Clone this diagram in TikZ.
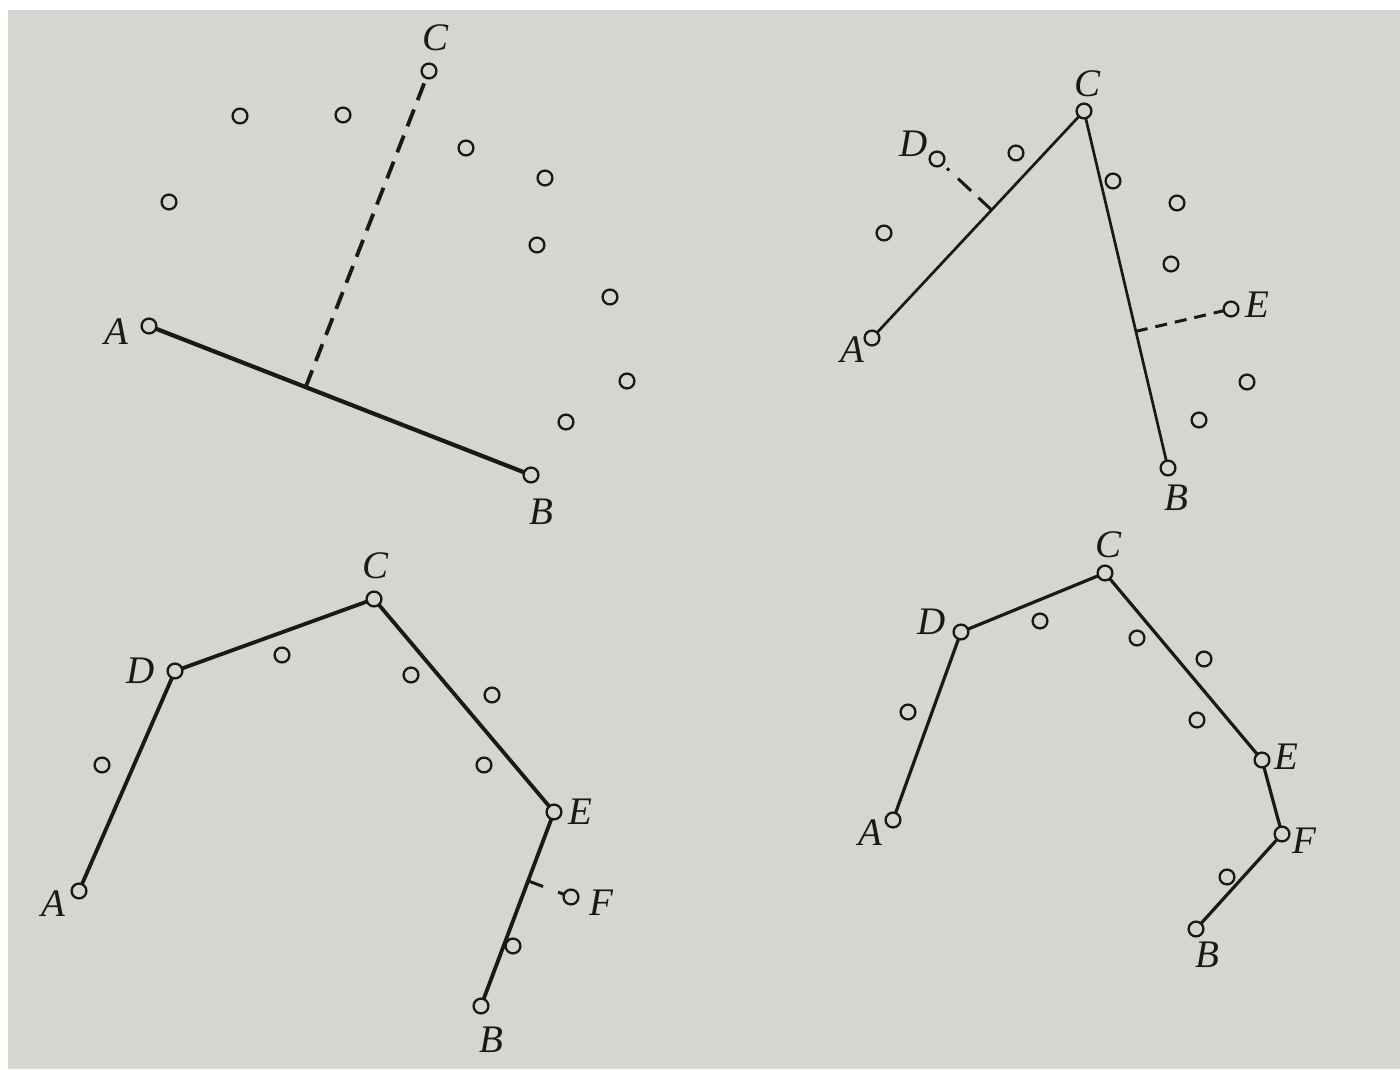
\documentclass[tikz,border=0pt]{standalone}
\usepackage{fontspec}
\setmainfont{Liberation Serif}
\usetikzlibrary{calc}
\definecolor{paper}{RGB}{214,213,208}
\definecolor{ink}{RGB}{25,25,25}
\tikzset{
  pt/.style={circle,draw=ink,fill=paper,line width=1.15pt,minimum size=7.4pt,inner sep=0pt,outer sep=0pt},
  lab/.style={inner sep=0pt,text=ink,font=\fontsize{19.5}{22}\selectfont\itshape},
  seg/.style={draw=ink,line width=1.9pt},
  segthin/.style={draw=ink,line width=1.35pt},
  perp/.style={draw=ink,line width=1.9pt,dash pattern=on 9pt off 5pt},
  perpsmall/.style={draw=ink,line width=1.5pt,dash pattern=on 6pt off 4pt},
}
\begin{document}
\begin{tikzpicture}[x=0.5pt,y=-0.5pt]
\useasboundingbox (0,0) rectangle (1400,1069);
\fill[white] (0,0) rectangle (1400,1069);
\fill[paper] (8,10) rectangle (1400,1069);
% ---------- panel 1 ----------
\node[pt] (A1) at (149,326) {};
\node[pt] (B1) at (531,475) {};
\node[pt] (C1) at (429,71) {};
\foreach \i/\x/\y in {1/240/116,2/343/115,3/466/148,4/545/178,5/169/202,6/537/245,7/610/297,8/627/381,9/566/422}
  \node[pt] (p1\i) at (\x,\y) {};
\node[lab] (lA1) at (116,332) {A};
\node[lab] (lB1) at (541,512) {B};
\node[lab] (lC1) at (435,38) {C};
\draw[seg,line width=2.1pt] (A1) -- (B1);
\coordinate (H1) at ($(A1)!(C1)!(B1)$);
\draw[perp] (H1) -- (C1);
% ---------- panel 2 ----------
\node[pt] (A2) at (872,338) {};
\node[pt] (B2) at (1168,468) {};
\node[pt] (C2) at (1084,111) {};
\node[pt] (D2) at (937,159) {};
\node[pt] (E2) at (1231,309) {};
\node[pt] (p21) at (1016,153) {};
\node[pt] (p22) at (1113,181) {};
\node[pt] (p23) at (1177,203) {};
\node[pt] (p24) at (884,233) {};
\node[pt] (p25) at (1171,264) {};
\node[pt] (p26) at (1247,382) {};
\node[pt] (p27) at (1199,420) {};
\node[lab] (lA2) at (852,350) {A};
\node[lab] (lB2) at (1176,498) {B};
\node[lab] (lC2) at (1087,84) {C};
\node[lab] (lD2) at (914,144) {D};
\node[lab] (lE2) at (1257,305) {E};
\draw[segthin] (A2) -- (C2) -- (B2);
\coordinate (H2) at ($(A2)!(D2)!(C2)$);
\coordinate (H3) at ($(C2)!(E2)!(B2)$);
\draw[perpsmall,dash pattern=on 9pt off 5pt on 9pt off 6pt on 1.5pt off 20pt] (H2) -- (D2);
\draw[perpsmall] (H3) -- (E2);
% ---------- panel 3 ----------
\node[pt] (A3) at (79,891) {};
\node[pt] (D3) at (175,671) {};
\node[pt] (C3) at (374,599) {};
\node[pt] (E3) at (554,812) {};
\node[pt] (F3) at (571,897) {};
\node[pt] (B3) at (481,1006) {};
\node[pt] (p31) at (282,655) {};
\node[pt] (p32) at (411,675) {};
\node[pt] (p33) at (492,695) {};
\node[pt] (p34) at (102,765) {};
\node[pt] (p35) at (484,765) {};
\node[pt] (p36) at (513,946) {};
\node[lab] (lA3) at (53,904) {A};
\node[lab] (lD3) at (141,671) {D};
\node[lab] (lC3) at (375,566) {C};
\node[lab] (lE3) at (580,812) {E};
\node[lab] (lF3) at (601,903) {F};
\node[lab] (lB3) at (491,1040) {B};
\draw[seg] (A3) -- (D3) -- (C3) -- (E3) -- (B3);
\coordinate (H4) at ($(E3)!(F3)!(B3)$);
\draw[perpsmall,dash pattern=on 8pt off 8pt] (H4) -- (F3);
% ---------- panel 4 ----------
\node[pt] (A4) at (893,820) {};
\node[pt] (D4) at (961,632) {};
\node[pt] (C4) at (1105,573) {};
\node[pt] (E4) at (1262,760) {};
\node[pt] (F4) at (1282,834) {};
\node[pt] (B4) at (1196,929) {};
\node[pt] (p41) at (1040,621) {};
\node[pt] (p42) at (1137,638) {};
\node[pt] (p43) at (1204,659) {};
\node[pt] (p44) at (908,712) {};
\node[pt] (p45) at (1197,720) {};
\node[pt] (p46) at (1227,877) {};
\node[lab] (lA4) at (870,833) {A};
\node[lab] (lD4) at (932,622) {D};
\node[lab] (lC4) at (1108,545) {C};
\node[lab] (lE4) at (1286,757) {E};
\node[lab] (lF4) at (1304,841) {F};
\node[lab] (lB4) at (1207,955) {B};
\draw[segthin,line width=1.6pt] (A4) -- (D4) -- (C4) -- (E4) -- (F4) -- (B4);
\end{tikzpicture}
\end{document}
